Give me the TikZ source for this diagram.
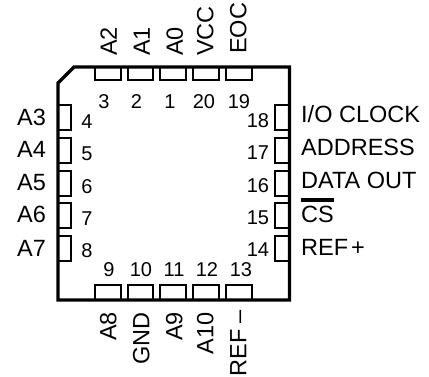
\documentclass[tikz,border=0pt]{standalone}
\usepackage{fontspec}
\setmainfont{Liberation Sans}
\tikzset{
  bodyline/.style={line width=3.2pt,line join=miter},
  pinbox/.style={line width=2pt,line join=miter},
  sig/.style={inner sep=0pt,font=\fontsize{23.5}{25}\selectfont,text height=16.8pt,text depth=0pt},
  num/.style={inner sep=0pt,font=\fontsize{20}{22}\selectfont,text height=14.3pt,text depth=0pt,anchor=center},
  sigtop/.style={sig,rotate=90,anchor=west},
  sigbot/.style={sig,rotate=90,anchor=east},
}
\begin{document}
\begin{tikzpicture}[x=1pt,y=-1pt]
\useasboundingbox (0,0) rectangle (429,377);
\draw[bodyline] (74,67) -- (289.5,67) -- (289.5,300) -- (58,300) -- (58,83) -- cycle;
\foreach \x in {95,127.5,160,193,226}{
  \draw[pinbox] (\x,67) -- (\x,80) -- (\x+25.5,80) -- (\x+25.5,67);
  \draw[pinbox] (\x,300) -- (\x,285) -- (\x+25.5,285) -- (\x+25.5,300);
}
\foreach \y in {105.5,138,171,203.5,236}{
  \draw[pinbox] (58,\y) -- (71,\y) -- (71,\y+25) -- (58,\y+25);
  \draw[pinbox] (289.5,\y) -- (275,\y) -- (275,\y+25) -- (289.5,\y+25);
}
% top
\node[sigtop] (a2) at (108.5,56) {A2};
\node[sigtop] (a1) at (141.5,56) {A1};
\node[sigtop] (a0) at (174.5,56) {A0};
\node[sigtop] (vcc) at (205,56) {VCC};
\node[sigtop] (eoc) at (238,54) {EOC};
% bottom
\node[sigbot] (a8) at (108,312) {A8};
\node[sigbot] (gnd) at (141,312) {GND};
\node[sigbot] (a9) at (174,312) {A9};
\node[sigbot] (a10) at (205,312) {A10};
\node[sigbot] (refm) at (238,310) {REF\hspace{6pt}–};
% left
\node[sig,anchor=west] (a3) at (17,117) {A3};
\node[sig,anchor=west] (a4) at (17,149) {A4};
\node[sig,anchor=west] (a5) at (17,182) {A5};
\node[sig,anchor=west] (a6) at (17,214) {A6};
\node[sig,anchor=west] (a7) at (17,248) {A7};
% right
\node[sig,anchor=west] (io) at (301,114) {I/O CLOCK};
\node[sig,anchor=west] (addr) at (301,147) {ADDRESS};
\node[sig,anchor=west] (dout) at (301,180) {DATA OUT};
\node[sig,anchor=west] (cs) at (301,214) {CS};
\node[sig,anchor=west] (refp) at (301,247) {REF\hspace{3pt}+};
\draw[line width=3.4pt] ([yshift=5.5pt]cs.north west) coordinate (csa) -- (csa -| cs.north east);
% numbers top
\node[num] (n3) at (104,101) {3};
\node[num] (n2) at (136.5,101) {2};
\node[num] (n1) at (170,101) {1};
\node[num] (n20) at (204,101) {20};
\node[num] (n19) at (239,101) {19};
% numbers left
\node[num] (n4) at (87,121) {4};
\node[num] (n5) at (87,153) {5};
\node[num] (n6) at (87,186) {6};
\node[num] (n7) at (87,218) {7};
\node[num] (n8) at (87,250) {8};
% numbers right
\node[num] (n18) at (258,120) {18};
\node[num] (n17) at (258,152) {17};
\node[num] (n16) at (258,185) {16};
\node[num] (n15) at (258,217) {15};
\node[num] (n14) at (258,249) {14};
% numbers bottom
\node[num] (n9) at (109,269) {9};
\node[num] (n10) at (141,269) {10};
\node[num] (n11) at (174,269) {11};
\node[num] (n12) at (207,269) {12};
\node[num] (n13) at (241,269) {13};
\end{tikzpicture}
\end{document}
